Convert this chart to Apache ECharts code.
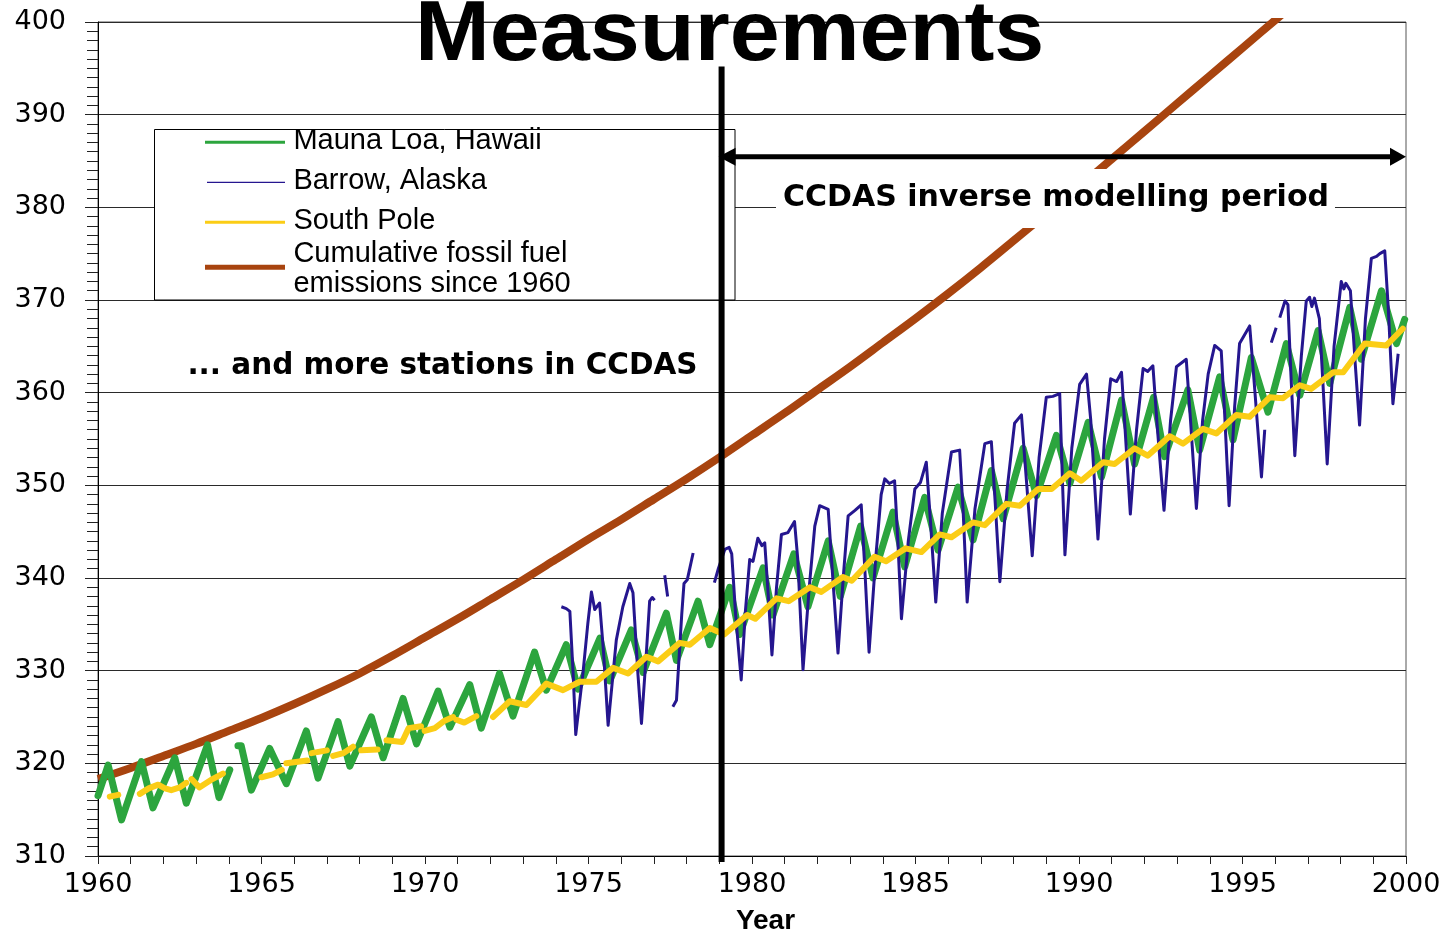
<!DOCTYPE html>
<html>
<head>
<meta charset="utf-8">
<title>Measurements</title>
<script src="https://cdn.jsdelivr.net/npm/echarts@6/dist/echarts.min.js"></script>
<style>
  html, body { margin: 0; padding: 0; background: #fff; }
  #chart { width: 1452px; height: 934px; }
</style>
</head>
<body>
<div id="chart"></div>
<script>
// Station records: [decimal year, CO2 ppm]; null marks a gap in the record.
const maunaLoa = [
  [1960.00, 316.5], [1960.31, 319.8], [1960.72, 313.9],
  [1961.33, 320.2], [1961.68, 315.2],
  [1962.35, 320.6], [1962.70, 315.7],
  [1963.35, 322.0], [1963.70, 316.3], [1964.03, 319.3],
  [1964.15, null],
  [1964.28, 321.9], [1964.38, 321.9], [1964.69, 317.1],
  [1965.25, 321.6], [1965.76, 317.8],
  [1966.37, 323.5], [1966.73, 318.4],
  [1967.34, 324.5], [1967.70, 319.7],
  [1968.36, 325.0], [1968.72, 320.6],
  [1969.33, 327.0], [1969.74, 322.1],
  [1970.40, 327.8], [1970.76, 323.9],
  [1971.37, 328.5], [1971.72, 323.8],
  [1972.28, 329.7], [1972.69, 325.1],
  [1973.35, 332.0], [1973.71, 327.9],
  [1974.32, 332.8], [1974.68, 328.0],
  [1975.35, 333.5], [1975.65, 328.9],
  [1976.31, 334.4], [1976.67, 329.8],
  [1977.38, 336.2], [1977.69, 331.1],
  [1978.35, 337.5], [1978.71, 332.8],
  [1979.32, 339.0], [1979.62, 333.9],
  [1980.34, 341.1], [1980.64, 336.0],
  [1981.28, 342.6], [1981.71, 336.9],
  [1982.33, 344.0], [1982.70, 338.0],
  [1983.32, 345.6], [1983.70, 340.0],
  [1984.31, 347.1], [1984.67, 341.2],
  [1985.28, 348.7], [1985.69, 343.0],
  [1986.30, 349.8], [1986.76, 344.1],
  [1987.32, 351.6], [1987.68, 346.4],
  [1988.29, 354.0], [1988.70, 348.9],
  [1989.31, 355.4], [1989.72, 350.2],
  [1990.28, 356.8], [1990.69, 350.9],
  [1991.30, 359.2], [1991.70, 352.3],
  [1992.28, 359.5], [1992.62, 353.1],
  [1993.33, 360.3], [1993.69, 353.8],
  [1994.30, 361.7], [1994.71, 354.9],
  [1995.27, 363.8], [1995.78, 357.9],
  [1996.34, 365.3], [1996.75, 359.7],
  [1997.31, 366.7], [1997.67, 361.0],
  [1998.28, 369.2], [1998.63, 363.6],
  [1999.25, 371.0], [1999.71, 365.3],
  [1999.96, 367.9]
];

const barrow = [
  [1974.17, 336.9], [1974.32, 336.7], [1974.43, 336.4], [1974.53, 329.7], [1974.61, 323.1],
  [1974.83, 329.7], [1974.98, 335.1], [1975.09, 338.5], [1975.19, 336.6], [1975.34, 337.3],
  [1975.46, 332.0], [1975.60, 324.1],
  [1975.85, 333.3], [1976.05, 336.9], [1976.26, 339.4], [1976.36, 338.4], [1976.51, 329.7], [1976.62, 324.3],
  [1976.78, 332.5], [1976.87, 337.5], [1976.95, 337.9], [1977.02, 337.6],
  [1977.15, null],
  [1977.33, 340.3], [1977.42, 338.0],
  [1977.50, null],
  [1977.58, 326.1], [1977.69, 326.8], [1977.85, 336.0], [1977.92, 339.4], [1978.02, 339.8], [1978.20, 342.7],
  [1978.50, null],
  [1978.85, 339.5], [1978.97, 341.0], [1979.17, 343.1], [1979.30, 343.3], [1979.38, 342.6], [1979.50, 336.0], [1979.67, 329.0],
  [1979.80, 336.5], [1979.93, 342.0], [1980.03, 341.8], [1980.18, 344.3], [1980.30, 343.5], [1980.39, 343.8], [1980.50, 338.0], [1980.61, 331.7],
  [1980.75, 339.0], [1980.90, 344.7], [1981.10, 344.9], [1981.30, 346.1], [1981.40, 342.0], [1981.56, 330.1],
  [1981.75, 339.0], [1981.92, 345.6], [1982.07, 347.8], [1982.33, 347.4], [1982.47, 340.0], [1982.63, 331.9],
  [1982.80, 340.5], [1982.94, 346.7], [1983.15, 347.3], [1983.34, 347.9], [1983.45, 341.0], [1983.58, 332.0],
  [1983.78, 342.0], [1983.95, 349.0], [1984.06, 350.7], [1984.20, 350.2], [1984.36, 350.5], [1984.46, 344.0], [1984.57, 335.6],
  [1984.78, 344.0], [1984.98, 349.6], [1985.15, 350.3], [1985.33, 352.5], [1985.46, 346.0], [1985.62, 337.4],
  [1985.82, 347.0], [1986.10, 353.6], [1986.35, 353.8], [1986.46, 347.0], [1986.58, 337.4],
  [1986.82, 347.5], [1987.12, 354.5], [1987.32, 354.7], [1987.44, 348.0], [1987.58, 339.6],
  [1987.80, 349.5], [1988.03, 356.7], [1988.24, 357.6], [1988.36, 352.0], [1988.57, 342.4],
  [1988.78, 353.0], [1989.00, 359.5], [1989.20, 359.6], [1989.41, 359.9], [1989.48, 352.0], [1989.57, 342.5],
  [1989.78, 354.0], [1990.02, 360.9], [1990.23, 362.0], [1990.36, 357.0], [1990.58, 344.2],
  [1990.78, 355.0], [1990.97, 361.5], [1991.15, 361.2], [1991.30, 362.2], [1991.41, 356.0], [1991.57, 346.9],
  [1991.76, 356.0], [1991.96, 362.6], [1992.10, 362.3], [1992.26, 362.9], [1992.40, 356.0], [1992.60, 347.3],
  [1992.80, 357.0], [1992.98, 362.8], [1993.28, 363.6], [1993.41, 357.0], [1993.59, 347.5],
  [1993.78, 357.0], [1993.95, 362.0], [1994.15, 365.1], [1994.35, 364.5], [1994.45, 358.0], [1994.59, 347.8],
  [1994.76, 358.5], [1994.91, 365.3], [1995.22, 367.2], [1995.36, 361.0], [1995.58, 350.9], [1995.68, 356.0],
  [1995.78, null],
  [1995.88, 365.4], [1996.03, 367.0],
  [1996.08, null],
  [1996.14, 368.1], [1996.30, 369.9], [1996.39, 369.5], [1996.48, 362.0], [1996.60, 353.2],
  [1996.80, 364.0], [1996.95, 369.9], [1997.05, 370.3], [1997.12, 369.3], [1997.20, 370.2], [1997.35, 368.0], [1997.46, 361.0], [1997.59, 352.3],
  [1997.80, 365.0], [1998.02, 372.0], [1998.10, 371.2], [1998.16, 371.8], [1998.30, 371.0], [1998.45, 363.0], [1998.58, 356.5],
  [1998.76, 368.0], [1998.94, 374.5], [1999.10, 374.7], [1999.20, 375.0], [1999.35, 375.3], [1999.46, 369.0], [1999.60, 358.8], [1999.76, 364.2]
];

const southPole = [
  [1960.36, 316.4], [1960.62, 316.6],
  [1960.90, null],
  [1961.28, 316.7], [1961.55, 317.3], [1961.84, 317.7], [1962.05, 317.3], [1962.24, 317.1], [1962.50, 317.4], [1962.70, 317.9],
  [1962.78, null],
  [1962.86, 318.3], [1963.10, 317.4], [1963.50, 318.3], [1963.82, 318.9],
  [1964.50, null],
  [1965.00, 318.5], [1965.35, 318.8], [1965.62, 319.3],
  [1965.70, null],
  [1965.76, 320.0], [1966.40, 320.3],
  [1966.47, null],
  [1966.53, 321.1], [1967.00, 321.4],
  [1967.10, null],
  [1967.19, 320.8], [1967.50, 321.1], [1967.80, 321.8],
  [1967.92, null],
  [1968.05, 321.4], [1968.55, 321.5],
  [1968.70, null],
  [1968.82, 322.5], [1969.30, 322.3], [1969.50, 323.8], [1969.88, 324.0],
  [1969.94, null],
  [1969.99, 323.5], [1970.30, 323.8], [1970.60, 324.6], [1970.86, 325.0],
  [1970.91, null],
  [1970.96, 324.7], [1971.20, 324.4], [1971.57, 325.1],
  [1971.80, null],
  [1972.08, 325.0], [1972.59, 326.7], [1973.10, 326.3], [1973.71, 328.6], [1974.22, 327.9],
  [1974.73, 328.8], [1975.24, 328.8], [1975.75, 330.3], [1976.21, 329.7], [1976.77, 331.5],
  [1977.13, 331.0], [1977.79, 333.0], [1978.10, 332.8], [1978.71, 334.6], [1979.15, 333.9],
  [1979.85, 336.0], [1980.10, 335.6], [1980.75, 337.8], [1981.12, 337.5], [1981.77, 339.0],
  [1982.12, 338.5], [1982.78, 340.1], [1983.05, 339.7], [1983.75, 342.3], [1984.10, 341.8],
  [1984.70, 343.2], [1985.18, 342.8], [1985.74, 344.7], [1986.10, 344.4], [1986.76, 346.0],
  [1987.12, 345.7], [1987.78, 348.0], [1988.19, 347.8], [1988.75, 349.6], [1989.16, 349.6],
  [1989.72, 351.3], [1990.07, 350.5], [1990.74, 352.5], [1991.09, 352.3], [1991.70, 354.0],
  [1992.10, 353.2], [1992.77, 355.3], [1993.18, 354.5], [1993.79, 356.1], [1994.20, 355.6],
  [1994.81, 357.6], [1995.22, 357.4], [1995.83, 359.5], [1996.24, 359.4], [1996.75, 360.8],
  [1997.10, 360.4], [1997.77, 362.2], [1998.08, 362.2], [1998.74, 365.3], [1999.40, 365.1],
  [1999.90, 366.9]
];

// Cumulative fossil fuel emissions since 1960, expressed on the ppm scale.
const fossilFuel = [
  [1960, 318.3], [1961, 319.5], [1962, 320.8], [1963, 322.1], [1964, 323.5],
  [1965, 324.9], [1966, 326.4], [1967, 328.0], [1968, 329.7], [1969, 331.6],
  [1970, 333.6], [1971, 335.6], [1972, 337.7], [1973, 339.8], [1974, 342.0],
  [1975, 344.2], [1976, 346.3], [1977, 348.5], [1978, 350.7], [1979, 353.0],
  [1980, 355.4], [1981, 357.8], [1982, 360.3], [1983, 362.8], [1984, 365.4],
  [1985, 368.0], [1986, 370.7], [1987, 373.5], [1988, 376.4], [1989, 379.3],
  [1990, 382.2], [1991, 385.2], [1992, 388.2], [1993, 391.2], [1994, 394.2],
  [1995, 397.2], [1996, 400.2], [1997, 403.2]
];

const seriesNames = [
  'Mauna Loa, Hawaii',
  'Barrow, Alaska',
  'South Pole',
  'Cumulative fossil fuel\nemissions since 1960'
];
const seriesColors = ['#2ca53e', '#25168f', '#fbcd16', '#a8440f'];

// Axis ranges and the inversion period marker (data units)
const yearRange = [1960, 2000];
const ppmRange = [310, 400];
const periodStart = 1979.07;
const periodEnd = 2000;
const arrowLevel = 385.45;
const periodLineTop = 395.2;
const periodLineBottom = 309.35;

const chart = echarts.init(document.getElementById('chart'), null, { renderer: 'canvas' });

const tickFont = 'DejaVu Sans';

chart.setOption({
  animation: false,
  backgroundColor: '#fff',
  grid: {
    left: 98, right: 46, top: 22, bottom: 78,
    show: true, borderColor: '#555', borderWidth: 1,
    containLabel: false, outerBoundsMode: 'none'
  },
  xAxis: {
    type: 'value',
    min: yearRange[0], max: yearRange[1], interval: 1,
    axisLine: { show: true, onZero: false, lineStyle: { color: '#000', width: 1 } },
    axisTick: { show: true, inside: false, length: 8, lineStyle: { color: '#222', width: 1 } },
    splitLine: { show: false },
    axisLabel: {
      show: true, margin: 15, color: '#000',
      fontFamily: tickFont, fontSize: 27,
      formatter: v => (v % 5 === 0 ? String(v) : '')
    },
    name: 'Year',
    nameLocation: 'middle',
    nameGap: 51,
    nameTextStyle: {
      fontFamily: 'Liberation Sans', fontWeight: 'bold', fontSize: 28,
      color: '#000', lineHeight: 28, padding: [0, 0, 0, 27]
    }
  },
  yAxis: {
    type: 'value',
    min: ppmRange[0], max: ppmRange[1], interval: 10,
    axisLine: { show: true, onZero: false, lineStyle: { color: '#000', width: 1 } },
    axisTick: { show: true, inside: false, length: 13, lineStyle: { color: '#222', width: 1 } },
    minorTick: { show: true, splitNumber: 10, length: 11, lineStyle: { color: '#222', width: 1 } },
    splitLine: { show: true, lineStyle: { color: '#2a2a2a', width: 1 } },
    axisLabel: {
      show: true, margin: 32, color: '#000',
      fontFamily: tickFont, fontSize: 27, padding: [0, 0, 4, 0]
    }
  },
  series: [
    {
      name: seriesNames[3], type: 'line', data: fossilFuel,
      showSymbol: false, symbol: 'none', silent: true, smooth: 0.3, clip: true,
      lineStyle: { color: seriesColors[3], width: 8, cap: 'butt' }
    },
    {
      name: seriesNames[0], type: 'line', data: maunaLoa,
      showSymbol: false, symbol: 'none', silent: true, connectNulls: false, clip: true,
      lineStyle: { color: seriesColors[0], width: 7, join: 'round', cap: 'round' }
    },
    {
      name: seriesNames[1], type: 'line', data: barrow,
      showSymbol: false, symbol: 'none', silent: true, connectNulls: false, clip: true,
      lineStyle: { color: seriesColors[1], width: 3, join: 'round', cap: 'butt' }
    },
    {
      name: seriesNames[2], type: 'line', data: southPole,
      showSymbol: false, symbol: 'none', silent: true, connectNulls: false, clip: true,
      lineStyle: { color: seriesColors[2], width: 6, join: 'round', cap: 'round' }
    }
  ]
});

// Annotations positioned through the axes' own scales
const toPx = (x, y) => chart.convertToPixel({ gridIndex: 0 }, [x, y]);
const [lineX, lineTop] = toPx(periodStart, periodLineTop);
const lineBottom = toPx(periodStart, periodLineBottom)[1];
const [arrowX0, arrowY] = toPx(periodStart, arrowLevel);
const arrowX1 = toPx(periodEnd, arrowLevel)[0];
const tipLeft = lineX - 3;

function textEl(x, y, text, style, extra) {
  return Object.assign({
    type: 'text', x: x, y: y, z: 110, silent: true,
    style: Object.assign({
      text: text, fill: '#000',
      align: 'left', textAlign: 'left',
      verticalAlign: 'middle', textVerticalAlign: 'middle'
    }, style)
  }, extra || {});
}

const legendFont = { fontFamily: 'Liberation Sans', fontSize: 29, lineHeight: 29.5 };
const legendRows = [
  { y: 142.3, width: 3, x0: 205 },
  { y: 182.3, width: 1.3, x0: 207 },
  { y: 222.3, width: 3, x0: 205 },
  { y: 267.3, width: 5, x0: 205 }
];
const legendTextY = [141, 181, 221, 268.8];

const graphics = [
  // title
  textEl(415, 36, 'Measurements',
    { fontFamily: 'Liberation Sans', fontWeight: 'bold', fontSize: 86 },
    { scaleX: 1.045 }),
  // legend box
  {
    type: 'rect', z: 100, silent: true,
    shape: { x: 154.5, y: 129.5, width: 580.5, height: 170.5 },
    style: { fill: '#fff', stroke: '#000', lineWidth: 1 }
  }
];
legendRows.forEach((row, i) => {
  graphics.push({
    type: 'line', z: 105, silent: true,
    shape: { x1: row.x0, y1: row.y, x2: 285, y2: row.y },
    style: { stroke: seriesColors[i], lineWidth: row.width }
  });
  graphics.push(textEl(293.4, legendTextY[i], seriesNames[i], legendFont));
});

graphics.push(
  // notes
  textEl(187.4, 366, '... and more stations in CCDAS',
    { fontFamily: 'DejaVu Sans', fontWeight: 'bold', fontSize: 29.5 }),
  textEl(776, 198.5, 'CCDAS inverse modelling period',
    {
      fontFamily: 'DejaVu Sans', fontWeight: 'bold', fontSize: 30, lineHeight: 34,
      backgroundColor: '#fff', padding: [13, 6, 12, 7]
    }),
  // start of the inversion period
  {
    type: 'line', z: 120, silent: true,
    shape: { x1: lineX, y1: lineTop, x2: lineX, y2: lineBottom },
    style: { stroke: '#000', lineWidth: 6 }
  },
  // double-headed period arrow
  {
    type: 'line', z: 120, silent: true,
    shape: { x1: tipLeft + 10, y1: arrowY, x2: arrowX1 - 10, y2: arrowY },
    style: { stroke: '#000', lineWidth: 5 }
  },
  {
    type: 'polygon', z: 121, silent: true,
    shape: { points: [[tipLeft, arrowY], [tipLeft + 17, arrowY - 9], [tipLeft + 17, arrowY + 9]] },
    style: { fill: '#000' }
  },
  {
    type: 'polygon', z: 121, silent: true,
    shape: { points: [[arrowX1, arrowY], [arrowX1 - 16, arrowY - 9], [arrowX1 - 16, arrowY + 9]] },
    style: { fill: '#000' }
  }
);

chart.setOption({ graphic: { elements: graphics } });
</script>
</body>
</html>
